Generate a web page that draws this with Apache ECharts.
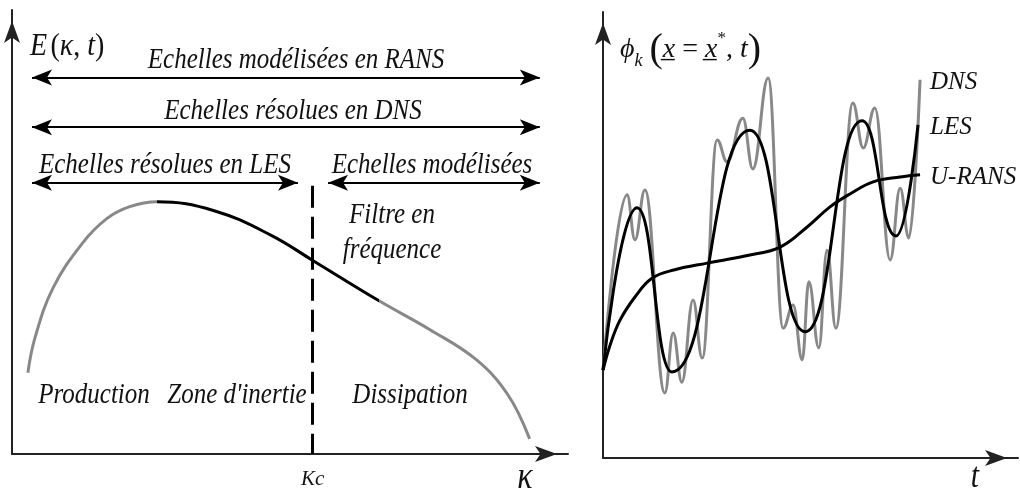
<!DOCTYPE html>
<html><head><meta charset="utf-8">
<script src="https://cdn.jsdelivr.net/npm/echarts@6/dist/echarts.min.js"></script>
<style>html,body{margin:0;padding:0;background:#fff}#c{width:1020px;height:490px}</style>
</head><body><div id="c"></div>
<script>
// ---- Left panel: energy spectrum E(kappa, t) ----
const spectrumK = [2.9, 4.2, 7.5, 12.8, 17.3, 21.5, 26.5, 36.9, 47.4, 54.9, 67.0, 76.3, 84.7, 90.5, 94.5];
const spectrumE = [18.3, 26.2, 37.4, 47.4, 53.0, 55.7, 56.8, 54.8, 49.2, 43.6, 34.5, 28.0, 21.3, 13.4, 3.4];
const inertialRange = [26.5, 67.0];      // black part of the curve
const cutoffK = 54.9;                    // Kc
const cutoffTop = 60.4;
const scaleArrowText = ['Echelles modélisées en RANS', 'Echelles résolues en DNS', 'Echelles résolues en LES', 'Echelles modélisées'];
const scaleArrowFrom = [3.65, 3.65, 3.65, 57.7];
const scaleArrowTo = [96.35, 96.35, 52.2, 96.35];
const scaleArrowLevel = [84.8, 73.6, 61.1, 61.1];
const zoneText = ['Production', "Zone d'inertie", 'Dissipation'];

// ---- Right panel: phi_k(x = x*, t) ----
const dnsT = [0, 5.8, 7.7, 10.1, 14.9, 16.9, 19.0, 21.7, 23.9, 27.5, 29.9, 33.7, 36.1, 39.8, 43.4, 45.8, 48.0, 49.6, 52.0, 54.0, 56.1, 60.2, 62.7, 65.5, 69.2, 71.6, 73.7, 76.4];
const dnsPhi = [19.7, 59.0, 48.9, 60.1, 14.6, 28.0, 17.0, 35.4, 22.4, 71.3, 66.4, 76.2, 64.8, 85.2, 29.1, 34.3, 22.0, 39.5, 24.7, 46.6, 29.1, 79.6, 69.5, 78.5, 44.4, 60.5, 49.3, 84.8];
const lesT = [0, 8.2, 16.6, 35.4, 48.7, 62.4, 70.6, 75.9];
const lesPhi = [19.7, 56.1, 19.3, 73.5, 28.3, 75.6, 49.8, 74.7];
const uransT = [0, 1.7, 4.1, 7.7, 11.8, 17.3, 25.1, 34.2, 42.7, 49.2, 54.7, 59.5, 65.1, 71.6, 76.4];
const uransPhi = [19.7, 25.3, 30.9, 36.1, 40.3, 42.2, 43.7, 45.3, 47.3, 51.8, 56.3, 59.2, 61.9, 63.0, 63.5];
const seriesNames = ['DNS', 'LES', 'U-RANS'];

const pairs = (a, b) => a.map((v, i) => [v, b[i]]);
const FONT = "'Liberation Serif', 'DejaVu Serif', serif";
const INK = '#111';
const GRAY = '#888888';

const axisArrow = {
  show: true, onZero: false,
  lineStyle: { color: '#222', width: 2 },
  symbol: ['none', 'arrow'], symbolSize: [12, 22], symbolOffset: [0, -11]
};
function valAxis(grid, max, extra) {
  return Object.assign({
    gridIndex: grid, type: 'value', min: 0, max: max,
    axisLine: axisArrow, axisTick: { show: false }, splitLine: { show: false },
    axisLabel: { show: false }
  }, extra || {});
}

function txt(text, x, y, size, align) {
  return {
    type: 'text', x: x, y: y, scaleY: 1.2, silent: true,
    style: { text: text, fill: INK, font: 'italic ' + (size || 25) + 'px ' + FONT,
      textAlign: align || 'center', textVerticalAlign: 'middle' }
  };
}
const endLabelStyle = { show: true, formatter: '{a}', distance: 10, offset: [0, 3],
  fontFamily: FONT, fontStyle: 'italic', fontSize: 25, color: INK };

const chart = echarts.init(document.getElementById('c'));
chart.setOption({
  animation: false,
  backgroundColor: '#fff',
  grid: [
    { left: 12, right: 452, top: 10, bottom: 33 },
    { left: 603, right: 2, top: 12, bottom: 32 }
  ],
  xAxis: [
    valAxis(0, 101.5, {
      axisLabel: { show: true, customValues: [cutoffK], formatter: () => 'Kc', margin: 15,
        fontFamily: FONT, fontStyle: 'italic', fontSize: 21, color: INK }
    }),
    valAxis(1, 100)
  ],
  yAxis: [valAxis(0, 100), valAxis(1, 100)],
  visualMap: [{
    type: 'piecewise', show: false, dimension: 0, seriesIndex: 0,
    pieces: [
      { lt: inertialRange[0], color: GRAY },
      { gte: inertialRange[0], lte: inertialRange[1], color: '#000' },
      { gt: inertialRange[1], color: GRAY }
    ]
  }],
  series: [
    {
      type: 'line', xAxisIndex: 0, yAxisIndex: 0, data: pairs(spectrumK, spectrumE),
      smooth: 0.4, symbol: 'none', lineStyle: { width: 3 },
      markLine: {
        silent: true, symbol: ['arrow', 'arrow'], symbolSize: [12, 20],
        label: { show: false },
        lineStyle: { color: '#000', width: 2, type: 'solid' },
        data: scaleArrowFrom.map((f, i) => [
          { coord: [f, scaleArrowLevel[i]] },
          { coord: [scaleArrowTo[i], scaleArrowLevel[i]] }
        ]).concat([[
          { coord: [cutoffK, cutoffTop], symbol: 'none', lineStyle: { type: [22, 9], width: 3, color: '#000' } },
          { coord: [cutoffK, 0], symbol: 'none' }
        ]])
      }
    },
    {
      name: seriesNames[0], type: 'line', xAxisIndex: 1, yAxisIndex: 1, data: pairs(dnsT, dnsPhi),
      smooth: 0.42, smoothMonotone: 'x', symbol: 'none',
      lineStyle: { color: GRAY, width: 3 },
      endLabel: endLabelStyle
    },
    {
      name: seriesNames[1], type: 'line', xAxisIndex: 1, yAxisIndex: 1, data: pairs(lesT, lesPhi),
      smooth: 0.5, smoothMonotone: 'x', symbol: 'none',
      lineStyle: { color: '#000', width: 3 },
      endLabel: Object.assign({}, endLabelStyle, { distance: 12 })
    },
    {
      name: seriesNames[2], type: 'line', xAxisIndex: 1, yAxisIndex: 1, data: pairs(uransT, uransPhi),
      smooth: 0.4, symbol: 'none',
      lineStyle: { color: '#000', width: 3 },
      endLabel: endLabelStyle
    }
  ],
  graphic: [
    txt(scaleArrowText[0], 296, 60),
    txt(scaleArrowText[1], 293, 111),
    txt(scaleArrowText[2], 165, 165),
    txt(scaleArrowText[3], 432, 165),
    txt('Filtre en', 392, 215),
    txt('fréquence', 392, 250),
    txt(zoneText[0], 94, 395),
    txt(zoneText[1], 237, 395),
    txt(zoneText[2], 410, 395),
    txt('κ', 525, 478, 32),
    txt('t', 975, 478, 30),
    {
      type: 'text', x: 30, y: 47, scaleY: 1.15, silent: true,
      style: {
        text: '{i|E} {r|(}{i|κ}{r|, }{i|t}{r|)}',
        textAlign: 'left', textVerticalAlign: 'middle', fill: INK,
        rich: {
          i: { fontFamily: FONT, fontStyle: 'italic', fontSize: 28, fill: INK },
          r: { fontFamily: FONT, fontSize: 28, fill: INK }
        }
      }
    },
    {
      type: 'text', x: 620, y: 50, silent: true,
      style: {
        text: '{i|ϕ}{sub|k}{r| }{big|(}{i|x̲}{r| = }{i|x̲}{sup|*}{r|, }{i|t}{big|)}',
        textAlign: 'left', textVerticalAlign: 'middle', fill: INK,
        rich: {
          i: { fontFamily: FONT, fontStyle: 'italic', fontSize: 28, fill: INK },
          r: { fontFamily: FONT, fontSize: 28, fill: INK },
          sub: { fontFamily: FONT, fontStyle: 'italic', fontSize: 18, fill: INK, verticalAlign: 'bottom' },
          sup: { fontFamily: FONT, fontSize: 17, fill: INK, verticalAlign: 'top' },
          big: { fontFamily: FONT, fontSize: 40, fill: INK }
        }
      }
    }
  ]
});
</script></body></html>
